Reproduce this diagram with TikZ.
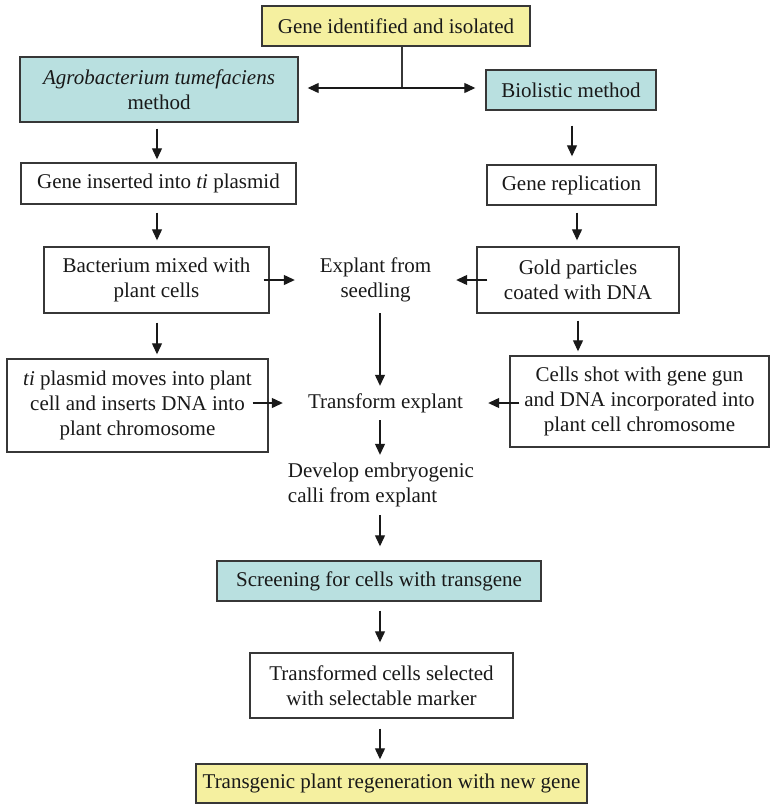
\documentclass[tikz,border=0pt]{standalone}
\usepackage{fontspec}
\setmainfont{Liberation Serif}
\usetikzlibrary{arrows.meta,calc}

\definecolor{paleyellow}{RGB}{245,240,160}
\definecolor{paleteal}{RGB}{185,224,224}
\definecolor{edge}{RGB}{55,55,55}
\definecolor{ink}{RGB}{25,25,25}

\begin{document}
\begin{tikzpicture}[x=1pt,y=-1pt,
  every node/.style={font=\fontsize{21}{25}\selectfont, text=ink, align=center, inner sep=0pt},
  box/.style={draw=edge, line width=1.4pt, fill=white},
  yellowbox/.style={box, fill=paleyellow},
  tealbox/.style={box, fill=paleteal},
  label/.style={},
  arr/.style={draw=ink, line width=1.2pt, -{Triangle[length=11pt,width=10pt]}},
  link/.style={draw=edge, line width=1.4pt},
]
\useasboundingbox (0,0) rectangle (770,804);

% columns of the vertical arrows
\coordinate (lc) at (157,0);
\coordinate (rc) at (572,0);
\coordinate (rc2) at (577,0);
\coordinate (rc3) at (578,0);
\coordinate (spine) at (380,0);
\coordinate (j) at (402,88);

% boxes
\node[yellowbox, minimum width=268pt, minimum height=40pt] (gene) at (396,26) {Gene identified and isolated};
\node[tealbox, minimum width=278pt, minimum height=65pt] (agro) at (159,89.5) {\textit{Agrobacterium tumefaciens}\\method};
\node[tealbox, minimum width=170pt, minimum height=40pt] (bio) at (571,90) {Biolistic method};
\node[box, minimum width=275pt, minimum height=41pt] (ins) at (158.5,183.5) {Gene inserted into \textit{ti} plasmid};
\node[box, minimum width=169pt, minimum height=40pt] (rep) at (571.5,185) {Gene replication};
\node[box, minimum width=225pt, minimum height=66pt] (bact) at (156.5,280) {Bacterium mixed with\\plant cells};
\node[box, minimum width=202pt, minimum height=66pt] (gold) at (578,280) {Gold particles\\coated with DNA};
\node[box, minimum width=261pt, minimum height=93pt] (tip) at (137.5,405.5) {\textit{ti} plasmid moves into plant\\cell and inserts DNA into\\plant chromosome};
\node[box, minimum width=259pt, minimum height=91pt] (shot) at (639.5,401.5) {Cells shot with gene gun\\and DNA incorporated into\\plant cell chromosome};
\node[tealbox, minimum width=324pt, minimum height=40pt] (screen) at (379,581) {Screening for cells with transgene};
\node[box, minimum width=263pt, minimum height=65pt] (sel) at (381.5,685.5) {Transformed cells selected\\with selectable marker};
\node[yellowbox, minimum width=391pt, minimum height=39pt] (tg) at (391.5,783.5) {Transgenic plant regeneration with new gene};

% free-standing steps
\node[label, minimum width=161pt, minimum height=66pt] (expl) at (375.5,280) {Explant from\\seedling};
\node[label, minimum width=205pt, minimum height=34pt] (trans) at (385.5,403) {Transform explant};
\node[label, align=left, minimum height=60pt] (calli) at (381,485) {Develop embryogenic\\calli from explant};

% split into the two methods
\draw[link] (j |- gene.south) -- (j);
\draw[arr, shorten >=9pt] (j) -- (j -| agro.east);
\draw[arr, shorten >=10pt] (j) -- (j -| bio.west);

% Agrobacterium column
\draw[arr, shorten <=6pt, shorten >=3pt] (agro.south -| lc) -- (ins.north -| lc);
\draw[arr, shorten <=8pt, shorten >=6pt] (ins.south -| lc) -- (bact.north -| lc);
\draw[arr, shorten <=9pt, shorten >=4pt] (bact.south -| lc) -- (tip.north -| lc);

% biolistic column
\draw[arr, shorten <=15pt, shorten >=8pt] (bio.south -| rc) -- (rep.north -| rc);
\draw[arr, shorten <=7pt, shorten >=6pt] (rep.south -| rc2) -- (gold.north -| rc2);
\draw[arr, shorten <=7pt, shorten >=4pt] (gold.south -| rc3) -- (shot.north -| rc3);

% into the explant
\draw[arr] ($(expl.west -| bact.east)+(-6,0)$) -- (expl.west);
\draw[arr] ($(expl.east -| gold.west)+(11,0)$) -- (expl.east);
\draw[arr] ($(trans.west -| tip.east)+(-16,0)$) -- (trans.west);
\draw[arr] ($(trans.east -| shot.west)+(10,0)$) -- (trans.east);

% central sequence
\draw[arr] (expl.south -| spine) -- (trans.north -| spine);
\draw[arr] (trans.south -| spine) -- (calli.north -| spine);
\draw[arr, shorten >=14pt] (calli.south -| spine) -- (screen.north -| spine);
\draw[arr, shorten <=9pt, shorten >=10pt] (screen.south -| spine) -- (sel.north -| spine);
\draw[arr, shorten <=10pt, shorten >=4pt] (sel.south -| spine) -- (tg.north -| spine);
\end{tikzpicture}
\end{document}
